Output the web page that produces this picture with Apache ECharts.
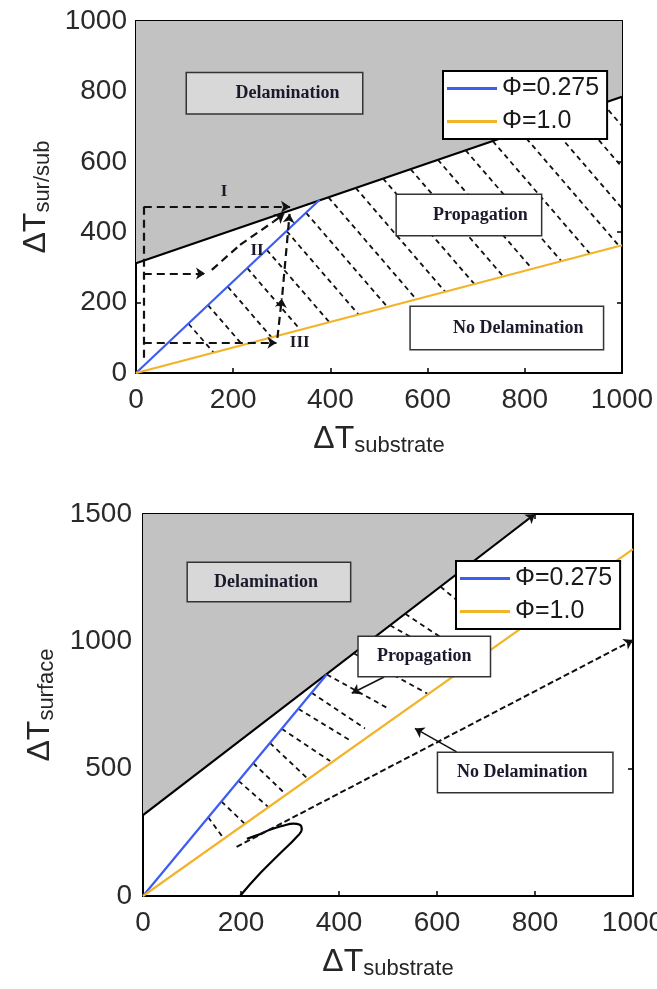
<!DOCTYPE html>
<html>
<head>
<meta charset="utf-8">
<script src="https://cdn.jsdelivr.net/npm/echarts@6/dist/echarts.min.js"></script>
<style>
  html, body { margin: 0; padding: 0; background: #fff; }
  #chart { width: 657px; height: 989px; }
</style>
</head>
<body>
<div id="chart"></div>
<script>
// ---------- data ----------
const PHI_A = 'Φ=0.275';
const PHI_B = 'Φ=1.0';

// upper panel: ΔT_sur/sub against ΔT_substrate
const upperTicksX = [0, 200, 400, 600, 800, 1000];
const upperTicksY = [0, 200, 400, 600, 800, 1000];
const upperBoundary = [[0, 312], [1000, 785]];          // delamination onset
const upperPhiA = [[0, 0], [378, 492]];
const upperPhiB = [[0, 0], [1000, 363]];
// propagation hatching: [x1, y1, x2, y2]
const upperHatch = [
  [108, 140, 160, 58], [148, 193, 219, 80], [189, 245, 279, 101], [229, 298, 338, 123],
  [269, 350, 398, 144], [310, 403, 458, 166], [350, 455, 517, 188], [396, 499, 577, 209],
  [452, 526, 636, 231], [508, 553, 696, 253], [565, 579, 756, 274], [621, 606, 815, 296],
  [678, 633, 875, 318], [734, 659, 934, 339], [791, 686, 994, 361], [847, 713, 1000, 468],
  [904, 739, 1000, 585], [960, 766, 1000, 702]
];
// loading paths I, II, III
const upperPathPlain = [[16, 472, 16, 30], [156, 293, 214, 364], [214, 364, 283, 430]];
const upperPathArrow = [
  [16, 472, 317, 472], [16, 283, 142, 283], [283, 430, 305, 452],
  [16, 86, 289, 86], [291, 100, 300, 212], [301, 222, 316, 452]
];
const upperPathNames = ['I', 'II', 'III'];
const upperPathAnchors = [[181, 515], [249, 349], [337, 85]];
const upperRegionNames = ['Delamination', 'Propagation', 'No Delamination'];
const upperRegionAnchors = [[285, 795], [685, 449], [763, 128]];

// lower panel: ΔT_surface against ΔT_substrate
const lowerTicksX = [0, 200, 400, 600, 800, 1000];
const lowerTicksY = [0, 500, 1000, 1500];
const lowerBoundary = [[0, 318], [800, 1500]];
const lowerPhiA = [[0, 0], [375, 870]];
const lowerPhiB = [[0, 0], [1000, 1362]];
const lowerLoop = [
  [198, 0], [239, 89], [280, 168], [314, 233], [324, 262], [320, 280],
  [307, 284], [286, 276], [259, 260], [232, 238], [212, 225]
];
const lowerLimit = [[191, 193, 1000, 1005]];
const lowerHatch = [
  [133, 309, 165, 225], [160, 371, 208, 283], [195, 452, 256, 349], [225, 522, 292, 398],
  [259, 601, 337, 459], [283, 657, 382, 530], [317, 735, 422, 612], [344, 798, 453, 658],
  [375, 870, 500, 737], [431, 952, 580, 795], [504, 1063, 600, 960], [535, 1108, 640, 975],
  [607, 1215, 660, 1130]
];
const lowerPointers = [[492, 860, 426, 796], [640, 566, 555, 658], [770, 1456, 800, 1500]];
const lowerRegionNames = ['Delamination', 'Propagation', 'No Delamination'];
const lowerRegionAnchors = [[257, 1233], [574, 940], [780, 485]];

// ---------- styles ----------
const SANS = 'Liberation Sans, Arial, sans-serif';
const SERIF = 'Liberation Serif, Times New Roman, serif';
const INK = '#1a1a2c';
const BLUE = '#3d5cf2';
const GOLD = '#f2b42a';
const SHADE = '#c2c2c2';

const upperBoxes = [
  { w: 175, h: 40, pad: [8, 0, 0, 26], fill: '#d8d8d8' },
  { w: 144, h: 40, pad: [8, 0, 0, 23], fill: '#ffffff' },
  { w: 192, h: 42, pad: [8, 0, 0, 23], fill: '#ffffff' }
];
const lowerBoxes = [
  { w: 162, h: 38, pad: [8, 6, 0, 0], fill: '#d8d8d8' },
  { w: 131, h: 39, pad: [8, 0, 0, 0], fill: '#ffffff' },
  { w: 174, h: 39, pad: [8, 6, 0, 0], fill: '#ffffff' }
];

function axisName(main, sub) {
  return {
    name: '{a|' + main + '}{b|' + sub + '}',
    nameTextStyle: {
      rich: {
        a: { fontSize: 32, fontFamily: SANS, color: '#262626', lineHeight: 34, verticalAlign: 'top' },
        b: { fontSize: 22, fontFamily: SANS, color: '#262626', lineHeight: 22, padding: [20, 0, 0, 0], verticalAlign: 'bottom' }
      }
    }
  };
}

function valueAxis(gridIndex, position, ticks, labelled, margin, extra) {
  const ax = {
    gridIndex, type: 'value', position,
    min: ticks[0], max: ticks[ticks.length - 1], interval: ticks[1] - ticks[0],
    axisLine: { show: true, onZero: false, lineStyle: { color: '#000', width: 2 } },
    axisTick: { show: true, inside: true, length: 5, lineStyle: { color: '#000', width: 1.5 } },
    axisLabel: {
      show: labelled, fontSize: 28, fontFamily: SANS, color: '#2a2a2a', margin,
      formatter: v => String(v)
    },
    splitLine: { show: false }
  };
  return Object.assign(ax, extra || {});
}

function segs(list) {
  return list.map(s => ({ coords: [[s[0], s[1]], [s[2], s[3]]] }));
}

function linesSeries(axis, list, style, arrow, z) {
  return {
    type: 'lines', coordinateSystem: 'cartesian2d',
    xAxisIndex: axis, yAxisIndex: axis, silent: true, z,
    symbol: arrow ? ['none', 'arrow'] : 'none', symbolSize: 9,
    lineStyle: Object.assign({ opacity: 1 }, style),
    data: segs(list)
  };
}

function curve(axis, name, data, color, width, z, area) {
  const s = {
    type: 'line', name, xAxisIndex: axis, yAxisIndex: axis, data,
    symbol: 'none', silent: true, z,
    lineStyle: { color, width }, itemStyle: { color }
  };
  if (area) s.areaStyle = { color: SHADE, opacity: 1, origin: 'end' };
  return s;
}

function regionLabels(axis, names, anchors, boxes) {
  return {
    type: 'scatter', xAxisIndex: axis, yAxisIndex: axis, symbolSize: 0, silent: true, z: 10,
    itemStyle: { opacity: 1 },
    data: names.map((n, i) => {
      const b = boxes[i];
      return {
        value: anchors[i],
        label: {
          show: true, position: 'inside', formatter: n, opacity: 1,
          width: b.w - b.pad[1] - b.pad[3], height: b.h - b.pad[0] - b.pad[2],
          padding: b.pad, align: 'center', verticalAlign: 'middle',
          backgroundColor: b.fill, borderColor: '#333', borderWidth: 1.5,
          fontFamily: SERIF, fontWeight: 'bold', fontSize: 18, color: INK
        }
      };
    })
  };
}

function pathLabels(axis, names, anchors) {
  return {
    type: 'scatter', xAxisIndex: axis, yAxisIndex: axis, symbolSize: 0, silent: true, z: 10,
    itemStyle: { opacity: 1 },
    data: names.map((n, i) => ({ value: anchors[i] })),
    label: {
      show: true, position: 'inside', opacity: 1,
      formatter: p => names[p.dataIndex],
      fontFamily: SERIF, fontWeight: 'bold', fontSize: 17, color: INK
    }
  };
}

function legendBox(left, top) {
  return {
    data: [PHI_A, PHI_B], orient: 'vertical', left, top, z: 20,
    backgroundColor: '#fff', borderColor: '#000', borderWidth: 2,
    padding: [4, 8, 4, 4], itemGap: 6, itemWidth: 50, itemHeight: 3,
    icon: 'rect',
    textStyle: { fontFamily: SANS, fontSize: 25, color: '#1a1a1a', lineHeight: 27 },
    selectedMode: false
  };
}

const hatchStyle = { color: '#111', width: 1.8, type: [5, 4] };
const pathStyle = { color: '#111', width: 2.2, type: [8, 5] };

const option = {
  animation: false,
  backgroundColor: '#fff',
  grid: [
    { left: 136, top: 21, width: 486, height: 352, outerBoundsMode: 'none' },
    { left: 143, top: 514, width: 490, height: 382, outerBoundsMode: 'none' }
  ],
  legend: [legendBox(443, 71), legendBox(456, 561)],
  xAxis: [
    valueAxis(0, 'bottom', upperTicksX, true, 13,
      Object.assign({ nameLocation: 'middle', nameGap: 45 }, axisName('ΔT', 'substrate'))),
    valueAxis(0, 'top', upperTicksX, false, 8),
    valueAxis(1, 'bottom', lowerTicksX, true, 13,
      Object.assign({ nameLocation: 'middle', nameGap: 45 }, axisName('ΔT', 'substrate'))),
    valueAxis(1, 'top', lowerTicksX, false, 8)
  ],
  yAxis: [
    valueAxis(0, 'left', upperTicksY, true, 9,
      Object.assign({ nameLocation: 'middle', nameRotate: 90, nameGap: 82 }, axisName('ΔT', 'sur/sub'))),
    valueAxis(0, 'right', upperTicksY, false, 8),
    valueAxis(1, 'left', lowerTicksY, true, 11,
      Object.assign({ nameLocation: 'middle', nameRotate: 90, nameGap: 85 }, axisName('ΔT', 'surface'))),
    valueAxis(1, 'right', lowerTicksY, false, 8)
  ],
  series: [
    // upper panel (axes 0)
    curve(0, 'upper boundary', upperBoundary, '#000', 2.2, 2, true),
    linesSeries(0, upperHatch, hatchStyle, false, 3),
    curve(0, PHI_A, upperPhiA, BLUE, 2.2, 5),
    curve(0, PHI_B, upperPhiB, GOLD, 2.2, 5),
    linesSeries(0, upperPathPlain, pathStyle, false, 6),
    linesSeries(0, upperPathArrow, pathStyle, true, 6),
    pathLabels(0, upperPathNames, upperPathAnchors),
    regionLabels(0, upperRegionNames, upperRegionAnchors, upperBoxes),

    // lower panel (axes 2)
    curve(2, 'lower boundary', lowerBoundary, '#000', 2.2, 2, true),
    linesSeries(2, lowerHatch, hatchStyle, false, 3),
    curve(2, PHI_A, lowerPhiA, BLUE, 2.2, 5),
    curve(2, PHI_B, lowerPhiB, GOLD, 2.2, 5),
    Object.assign(curve(2, 'loop', lowerLoop, '#000', 2.2, 5), { smooth: true }),
    linesSeries(2, lowerLimit, { color: '#111', width: 2, type: [6, 3] }, true, 6),
    linesSeries(2, lowerPointers, { color: '#111', width: 1.5 }, true, 6),
    regionLabels(2, lowerRegionNames, lowerRegionAnchors, lowerBoxes)
  ]
};

const chart = echarts.init(document.getElementById('chart'), null, { renderer: 'canvas' });
chart.setOption(option);
</script>
</body>
</html>
